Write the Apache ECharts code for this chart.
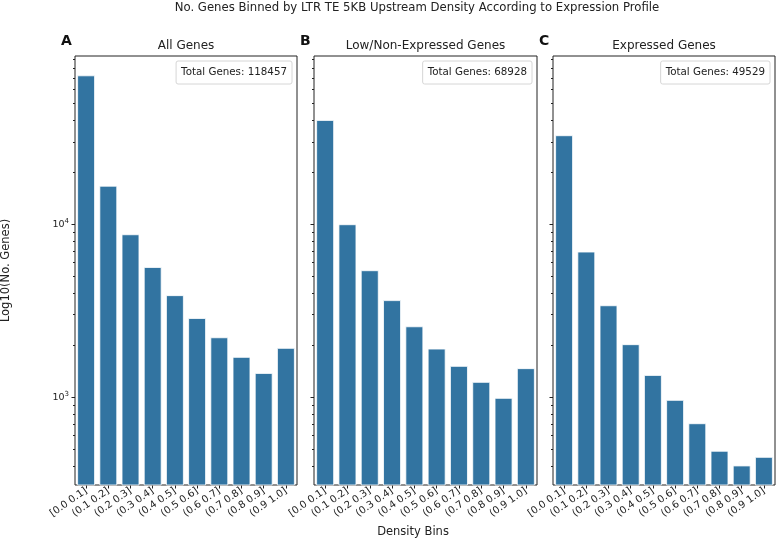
<!DOCTYPE html>
<html><head><meta charset="utf-8">
<script src="https://cdn.jsdelivr.net/npm/echarts@6/dist/echarts.min.js"></script>
<style>html,body{margin:0;padding:0;background:#fff}#c{width:777px;height:541px}</style>
</head><body><div id="c"></div>
<script>
// ---- data ----
const categories = ['[0.0 0.1]','(0.1 0.2]','(0.2 0.3]','(0.3 0.4]','(0.4 0.5]','(0.5 0.6]','(0.6 0.7]','(0.7 0.8]','(0.8 0.9]','(0.9 1.0]'];
const allGenes = [72600,16700,8750,5660,3890,2870,2220,1710,1381,1928];
const lowGenes = [40100,10000,5420,3640,2570,1910,1517,1226,991,1472];
const expGenes = [32700,6950,3400,2025,1345,965,707,490,403,452];
const panelTitles = ['All Genes','Low/Non-Expressed Genes','Expressed Genes'];
const panelLetters = ['A','B','C'];
const totals = [118457,68928,49529];
const majorTicks = [1000,10000];
const majorTickLabels = {1000:'3', 10000:'4'};
const minorTicks = [400,500,600,700,800,900,2000,3000,4000,5000,6000,7000,8000,9000,20000,30000,40000,50000,60000,70000,80000,90000];
const mainTitle = 'No. Genes Binned by LTR TE 5KB Upstream Density According to Expression Profile';
const yName = 'Log10(No. Genes)';
const xName = 'Density Bins';

// ---- layout ----
const FONT = 'DejaVu Sans';
const BAR = '#3274a1';
const yMin = 311, yMax = 94000;
const grids = [
  {left:75, top:56, width:222, height:429},
  {left:314, top:56, width:223, height:429},
  {left:553, top:56, width:222, height:429}
];
const seriesData = [allGenes, lowGenes, expGenes];

const chart = echarts.init(document.getElementById('c'), null, {renderer:'canvas'});
const ctx = document.createElement('canvas').getContext('2d');
const BOXFONT = '10.3px "' + FONT + '"';
ctx.font = BOXFONT;

const option = {
  animation:false,
  backgroundColor:'#fff',
  textStyle:{fontFamily:FONT},
  grid: grids.map(g => Object.assign({show:true, borderColor:'#222', borderWidth:1, backgroundColor:'transparent', outerBoundsMode:'none', containLabel:false}, g)),
  xAxis: grids.map((g,i) => ({
    type:'category', gridIndex:i, data:categories,
    axisLine:{show:false},
    axisTick:{show:true, alignWithLabel:true, length:3.5, lineStyle:{color:'#222'}},
    axisLabel:{rotate:35, fontSize:10, color:'#222', margin:5, interval:0, fontFamily:FONT},
    splitLine:{show:false}
  })),
  yAxis: [],
  series: [],
  graphic: []
};

grids.forEach((g,i) => {
  option.yAxis.push({
    type:'log', gridIndex:i, min:yMin, max:yMax, logBase:10, position:'left',
    axisLine:{show:false},
    axisTick:{show:true, length:3.5, customValues:majorTicks, lineStyle:{color:'#222'}},
    axisLabel:{show:i===0, customValues:majorTicks, margin:6, color:'#222', fontFamily:FONT,
      formatter: v => '{b|10}{s|' + (majorTickLabels[Math.round(v)] || '') + '}',
      rich:{b:{fontSize:9.5, color:'#222', fontFamily:FONT}, s:{fontSize:7, color:'#222', fontFamily:FONT, padding:[0,0,7,0]}}},
    splitLine:{show:false},
    name: i===0 ? yName : '', nameLocation:'middle', nameRotate:90, nameGap:63,
    nameTextStyle:{fontSize:11.5, color:'#222', fontFamily:FONT}
  });
  option.yAxis.push({
    type:'log', gridIndex:i, min:yMin, max:yMax, logBase:10, position:'left', offset:0,
    axisLine:{show:false},
    axisTick:{show:true, length:2, customValues:minorTicks, lineStyle:{color:'#222'}},
    axisLabel:{show:false},
    splitLine:{show:false}
  });
  option.series.push({
    type:'bar', xAxisIndex:i, yAxisIndex:i*2, data:seriesData[i],
    barCategoryGap:'20%',
    itemStyle:{color:BAR, borderColor:'#ffffff', borderWidth:0.8}
  });
  // panel title
  option.graphic.push({type:'text', x:g.left + g.width/2, y:46, style:{text:panelTitles[i], font:'12px "'+FONT+'"', fill:'#222', textAlign:'center', textVerticalAlign:'middle'}});
  // panel letter
  option.graphic.push({type:'text', x:g.left - 14, y:41, style:{text:panelLetters[i], font:'bold 14px "'+FONT+'"', fill:'#111', textAlign:'left', textVerticalAlign:'middle'}});
  // total box
  const txt = 'Total Genes: ' + totals[i];
  const w = ctx.measureText(txt).width + 10;
  const right = g.left + g.width - 5;
  option.graphic.push({type:'rect', x:right - w, y:61, shape:{width:w, height:23, r:2}, style:{fill:'rgba(255,255,255,0.8)', stroke:'#d6d6d6', lineWidth:1}});
  option.graphic.push({type:'text', x:right - w/2, y:72.5, style:{text:txt, font:BOXFONT, fill:'#222', textAlign:'center', textVerticalAlign:'middle'}});
});

option.graphic.push({type:'text', x:417, y:8, style:{text:mainTitle, font:'11.7px "'+FONT+'"', fill:'#222', textAlign:'center', textVerticalAlign:'middle'}});
option.graphic.push({type:'text', x:413, y:532, style:{text:xName, font:'11.5px "'+FONT+'"', fill:'#222', textAlign:'center', textVerticalAlign:'middle'}});

chart.setOption(option);
</script>
</body></html>
